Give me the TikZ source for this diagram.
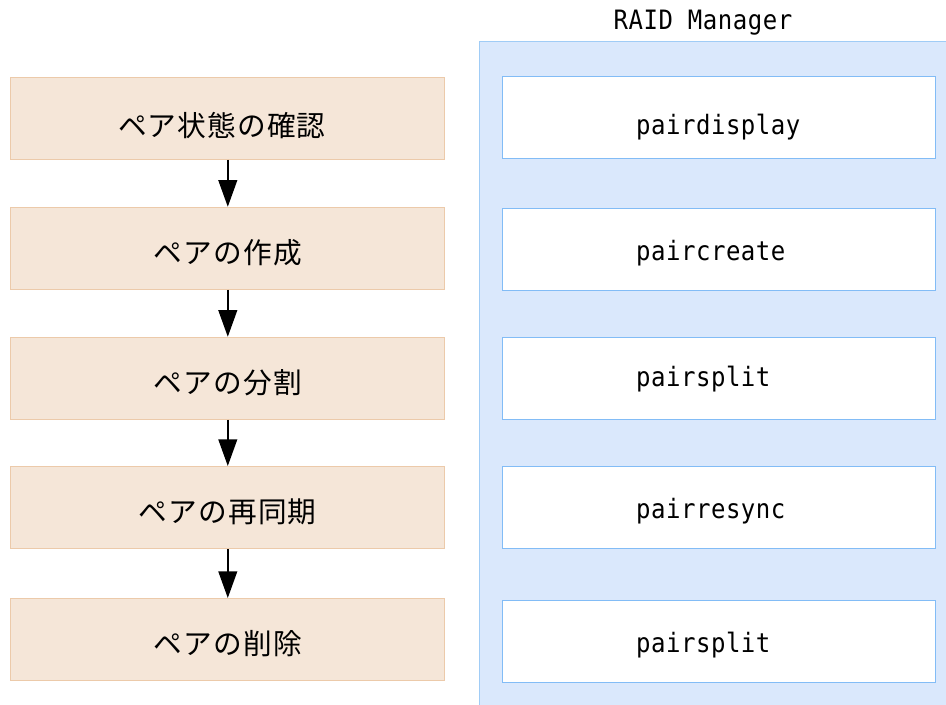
\documentclass[tikz,border=0pt]{standalone}
\usepackage{fontspec}
\setmainfont{Noto Sans CJK JP}[LetterSpace=4]
\newfontfamily\cmdfont{DejaVu Sans Mono}[FakeStretch=0.9, LetterSpace=2]
\usetikzlibrary{arrows.meta}

\definecolor{stepfill}{RGB}{245,230,216}
\definecolor{stepline}{RGB}{236,202,170}
\definecolor{panelfill}{RGB}{218,232,252}
\definecolor{panelline}{RGB}{160,204,246}
\definecolor{cmdline}{RGB}{130,188,246}

\tikzset{
  stepbox/.style={draw=stepline, fill=stepfill, line width=0.75pt,
    minimum width=325.5pt, minimum height=61.5pt, inner sep=0pt,
    font=\fontsize{21.5}{21.5}\selectfont, text height=22.5pt, text depth=0pt},
  cmdbox/.style={draw=cmdline, fill=white, line width=0.75pt,
    minimum width=324.75pt, minimum height=61.5pt, inner ysep=0pt, inner xsep=100pt,
    text width=124.75pt, align=left,
    font=\cmdfont\fontsize{20}{20}\selectfont, text height=16.4pt, text depth=0pt},
  flow/.style={line width=1.5pt, -{Triangle[length=20pt,width=14pt]}}
}

\begin{document}
\begin{tikzpicture}[x=0.75pt, y=-0.75pt]
   \useasboundingbox (0,0) rectangle (946,704);
   % RAID Manager panel
   \draw[draw=panelline, fill=panelfill, line width=0.75pt] (479,41) rectangle (960,720);
   \node[anchor=base, font=\cmdfont\fontsize{20}{20}\selectfont, inner sep=0pt] (raid) at (703,29) {RAID Manager};

   % steps
   \node[stepbox, text height=26.6pt] (check)  at (227.8,118.3) {ペア状態の確認\kern9pt};
   \node[stepbox] (create) at (227.8,248.3) {ペアの作成};
   \node[stepbox] (split)  at (227.8,378.3) {ペアの分割};
   \node[stepbox] (resync) at (227.8,507.5) {ペアの再同期};
   \node[stepbox] (delete) at (227.8,639.5) {ペアの削除};

   \draw[flow] (check)  -- (create);
   \draw[flow] (create) -- (split);
   \draw[flow] (split)  -- (resync);
   \draw[flow] (resync) -- (delete);

   % commands
   \node[cmdbox, text height=26.4pt] (cmddisplay) at (719.3,117.2) {pairdisplay};
   \node[cmdbox] (cmdcreate) at (719.3,249.2) {paircreate};
   \node[cmdbox, text height=12pt] (cmdsplit)  at (719.3,378.3) {pairsplit};
   \node[cmdbox] (cmdresync) at (719.3,507.2) {pairresync};
   \node[cmdbox] (cmddelete) at (719.3,641.3) {pairsplit};
\end{tikzpicture}
\end{document}
